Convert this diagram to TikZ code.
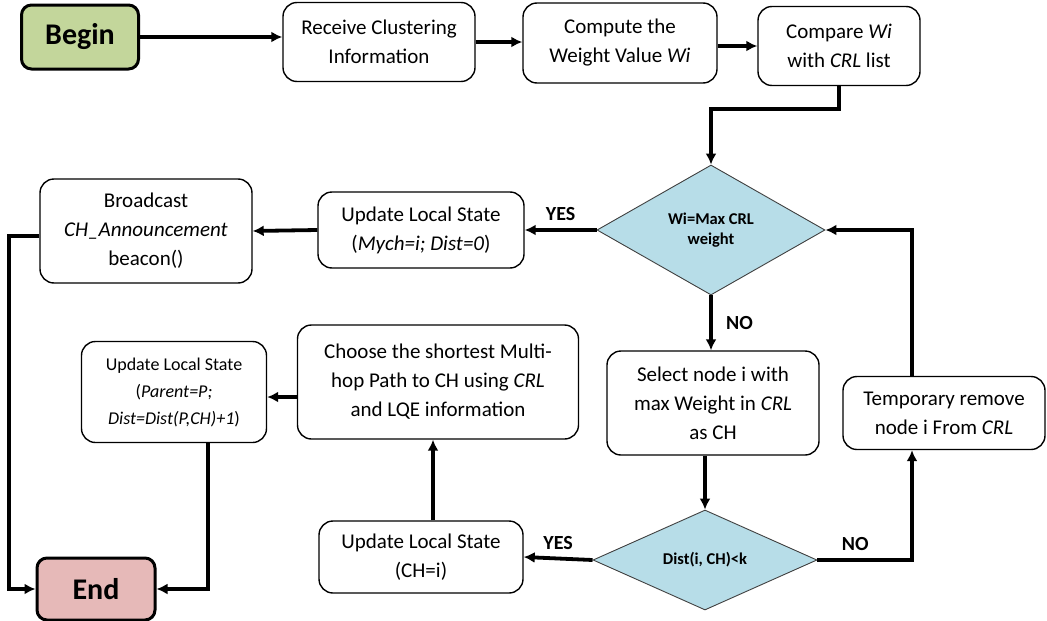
\documentclass[tikz,border=0pt]{standalone}
\usepackage{fontspec}
\setmainfont{Carlito}
\usepackage{tikz}
\usetikzlibrary{shapes.geometric}
\usetikzlibrary{arrows.meta}
\definecolor{begingreen}{HTML}{C3D69B}
\definecolor{endpink}{HTML}{E6B9B8}
\definecolor{testblue}{HTML}{B7DDE8}
\tikzset{box/.style={draw=black, line width=1.4pt, rounded corners=14pt, align=center, inner sep=0pt,
font=\fontsize{21}{29}\selectfont},
term/.style={draw=black, line width=3pt, rounded corners=10pt, inner sep=0pt,
font=\fontsize{30}{32}\selectfont\bfseries},
test/.style={diamond, aspect=1.75, draw=black!75, line width=0.9pt, fill=testblue, inner sep=0pt, align=center,
font=\fontsize{16.5}{20}\selectfont\bfseries},
%thick flow arrows
arr/.style={line width=3.8pt, -{Latex[length=11pt,width=11pt]}},
answer/.style={font=\fontsize{20}{22}\selectfont\bfseries}}

\begin{document}
\begin{tikzpicture}[x=1pt,y=-1pt]
\useasboundingbox (0,0) rectangle (1047,621);

% top row
\node[term, fill=begingreen, minimum width=117pt, minimum height=64pt] (begin) at (80,37) {Begin};
\node[box, minimum width=192pt, minimum height=79pt] (recv) at (379,42) {Receive Clustering\\Information};
\node[box, minimum width=194pt, minimum height=80pt] (weight) at (620,43) {Compute the\\Weight Value \textit{Wi}};
\node[box, minimum width=162pt, minimum height=79pt] (compare) at (839,46) {Compare \textit{Wi}\\with \textit{CRL} list};

% first test
\node[test, minimum width=228pt, minimum height=130pt] (maxw) at (711,230) {Wi=Max CRL\\weight};
\node[box, minimum width=206pt, minimum height=76pt] (selfch) at (421,230) {Update Local State\\(\textit{Mych=i; Dist=0})};
\node[box, minimum width=212pt, minimum height=104pt] (bcast) at (146,231) {Broadcast\\\textit{CH\_Announcement}\\beacon()};
\node[box, minimum width=212pt, minimum height=104pt] (select) at (713,403) {Select node i with\\max Weight in \textit{CRL}\\as CH};
\node[box, minimum width=202pt, minimum height=73pt] (remove) at (944,413) {Temporary remove\\node i From \textit{CRL}};

% second test
\node[test, minimum width=224pt, minimum height=100pt] (dist) at (705,560) {Dist(i, CH)<k};
\node[box, minimum width=204pt, minimum height=72pt] (setch) at (421,557) {Update Local State\\(CH=i)};
\node[box, minimum width=281pt, minimum height=114pt] (path) at (438,382) {Choose the shortest Multi-\\hop Path to CH using \textit{CRL}\\and LQE information};
\node[box, minimum width=185pt, minimum height=101pt, font=\fontsize{18}{27}\selectfont] (parent) at (174,392) {Update Local State\\(\textit{Parent=P;}\\\textit{Dist=Dist(P,CH)+1})};
\node[term, fill=endpink, minimum width=118pt, minimum height=62pt] (end) at (96,589) {End};

% connectors
\draw[arr] (begin.east) -- (begin.east -| recv.west);
\draw[arr] (recv.east) -- (recv.east -| weight.west);
\draw[arr] (weight.east |- compare.west) -- (compare.west);
\draw[arr] (compare.south) -- ++(0,23) -| (maxw.north);
\draw[arr] (maxw.west) -- (selfch.east) node[answer, midway, above=4pt] {YES};
\draw[arr] (selfch.west) -- (bcast.east);
\draw[arr] ([yshift=-5pt]bcast.west) -- ++(-30,0) |- (end.west);
\draw[arr] (maxw.south) -- (maxw.south |- select.north) node[answer, midway, right=10pt] {NO};
\draw[arr] (dist.north |- select.south) -- (dist.north);
\draw[arr] (dist.west) -- (setch.east) node[answer, midway, above=4pt] {YES};
\draw[arr] ([xshift=12pt]setch.north) -- ([xshift=12pt]setch.north |- path.south);
\draw[arr] ([yshift=-15pt]path.west) -- ([yshift=-15pt]path.west -| parent.east);
\draw[arr] ([xshift=34pt]parent.south) |- (end.east);
\draw[arr] (dist.east) -| ([xshift=-32pt]remove.south) node[answer, pos=0.2, above=4pt] {NO};
\draw[arr] ([xshift=-32pt]remove.north) |- (maxw.east);

\end{tikzpicture}
\end{document}
